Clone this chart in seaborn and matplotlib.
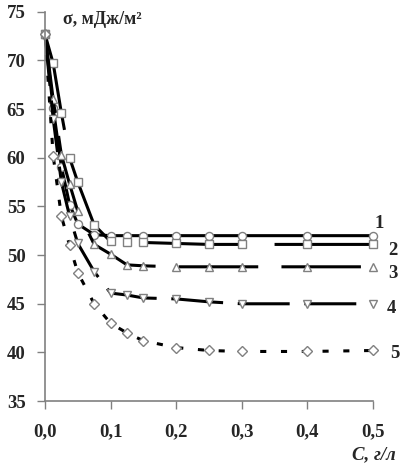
import matplotlib
matplotlib.use("Agg")
import matplotlib.pyplot as plt
import seaborn as sns
import pandas as pd

conc = [0, 0.0125, 0.025, 0.0375, 0.05, 0.075, 0.1, 0.125, 0.15, 0.2, 0.25, 0.3, 0.4, 0.5]
s1 = [72.7, 65.1, 59.1, 55.2, 53.2, 52.1, 52.0, 52.0, 52.0, 52.0, 52.0, 52.0, 52.0, 52.0]
s2 = [72.7, 69.7, 64.6, 60.0, 57.5, 53.1, 51.4, 51.3, 51.3, 51.2, 51.1, 51.1, 51.1, 51.1]
s3 = [72.7, 66.0, 60.3, 57.3, 54.5, 51.1, 50.1, 49.0, 48.9, 48.8, 48.8, 48.8, 48.8, 48.8]
s4 = [72.7, 64.0, 57.5, 54.0, 51.2, 48.3, 46.1, 45.9, 45.6, 45.5, 45.2, 45.0, 45.0, 45.0]
s5 = [72.7, 60.2, 54.0, 51.0, 48.2, 45.0, 43.0, 42.0, 41.2, 40.5, 40.2, 40.1, 40.1, 40.2]
series_labels = ["1", "2", "3", "4", "5"]
xticks = [0.0, 0.1, 0.2, 0.3, 0.4, 0.5]
xticklabels = ["0,0", "0,1", "0,2", "0,3", "0,4", "0,5"]
yticks = [35, 40, 45, 50, 55, 60, 65, 70, 75]

sns.set_style("white")
plt.rcParams['font.family'] = ['Liberation Serif', 'DejaVu Serif']

fig = plt.figure(figsize=(4.09, 4.73), dpi=100)
ax = fig.add_axes([0.110, 0.152, 0.802, 0.823])

series = [s1, s2, s3, s4, s5]
markers = ["o", "s", "^", "v", "D"]
msizes = [5.8, 5.8, 6.0, 6.0, 5.0]
styles = ["-", (0, (32, 10)), (0, (26, 7.6)), (0, (17, 4.8)), (0, (2, 4.8))]

for vals, m, ms, ls in zip(series, markers, msizes, styles):
    df = pd.DataFrame({"C": conc, "sigma": vals})
    sns.lineplot(data=df, x="C", y="sigma", ax=ax, color="black", linewidth=2.2,
                 linestyle=ls, marker=m, markersize=ms, markerfacecolor="white",
                 markeredgecolor="#808080", markeredgewidth=1.0, sort=False)

ax.set_xlim(0, 0.5)
ax.set_ylim(35, 75)
ax.set_xticks(xticks)
ax.set_xticklabels(xticklabels)
ax.set_yticks(yticks)
ax.set_yticklabels([str(v) for v in yticks])
for lab in ax.get_xticklabels() + ax.get_yticklabels():
    lab.set_fontweight("bold")
    lab.set_fontsize(13.5)
ax.tick_params(axis="both", direction="out", length=6, width=1, color="#808080",
               left=True, bottom=True, pad=10)
ax.tick_params(axis="y", pad=8)
for sp in ["top", "right"]:
    ax.spines[sp].set_visible(False)
for sp in ["left", "bottom"]:
    ax.spines[sp].set_color("#808080")
    ax.spines[sp].set_linewidth(1.2)
ax.set_xlabel("")
ax.set_ylabel("")
for ln in ax.lines:
    ln.set_clip_on(False)

# series labels at the right
label_pos = [(379, 223), (393, 250), (393, 273), (391, 308), (395, 353)]
for lab, (px, py) in zip(series_labels, label_pos):
    fig.text(px / 409, 1 - py / 473, lab, ha="center", va="center",
             fontsize=13.5, fontweight="bold")

fig.text(63 / 409, 1 - 19 / 473, "σ, мДж/м²", ha="left", va="center",
         fontsize=13, fontweight="bold")
fig.text(396 / 409, 1 - 455 / 473, "C, г/л", ha="right", va="center",
         fontsize=13.5, fontweight="bold", fontstyle="italic")

fig.savefig("out.png", dpi=100)
